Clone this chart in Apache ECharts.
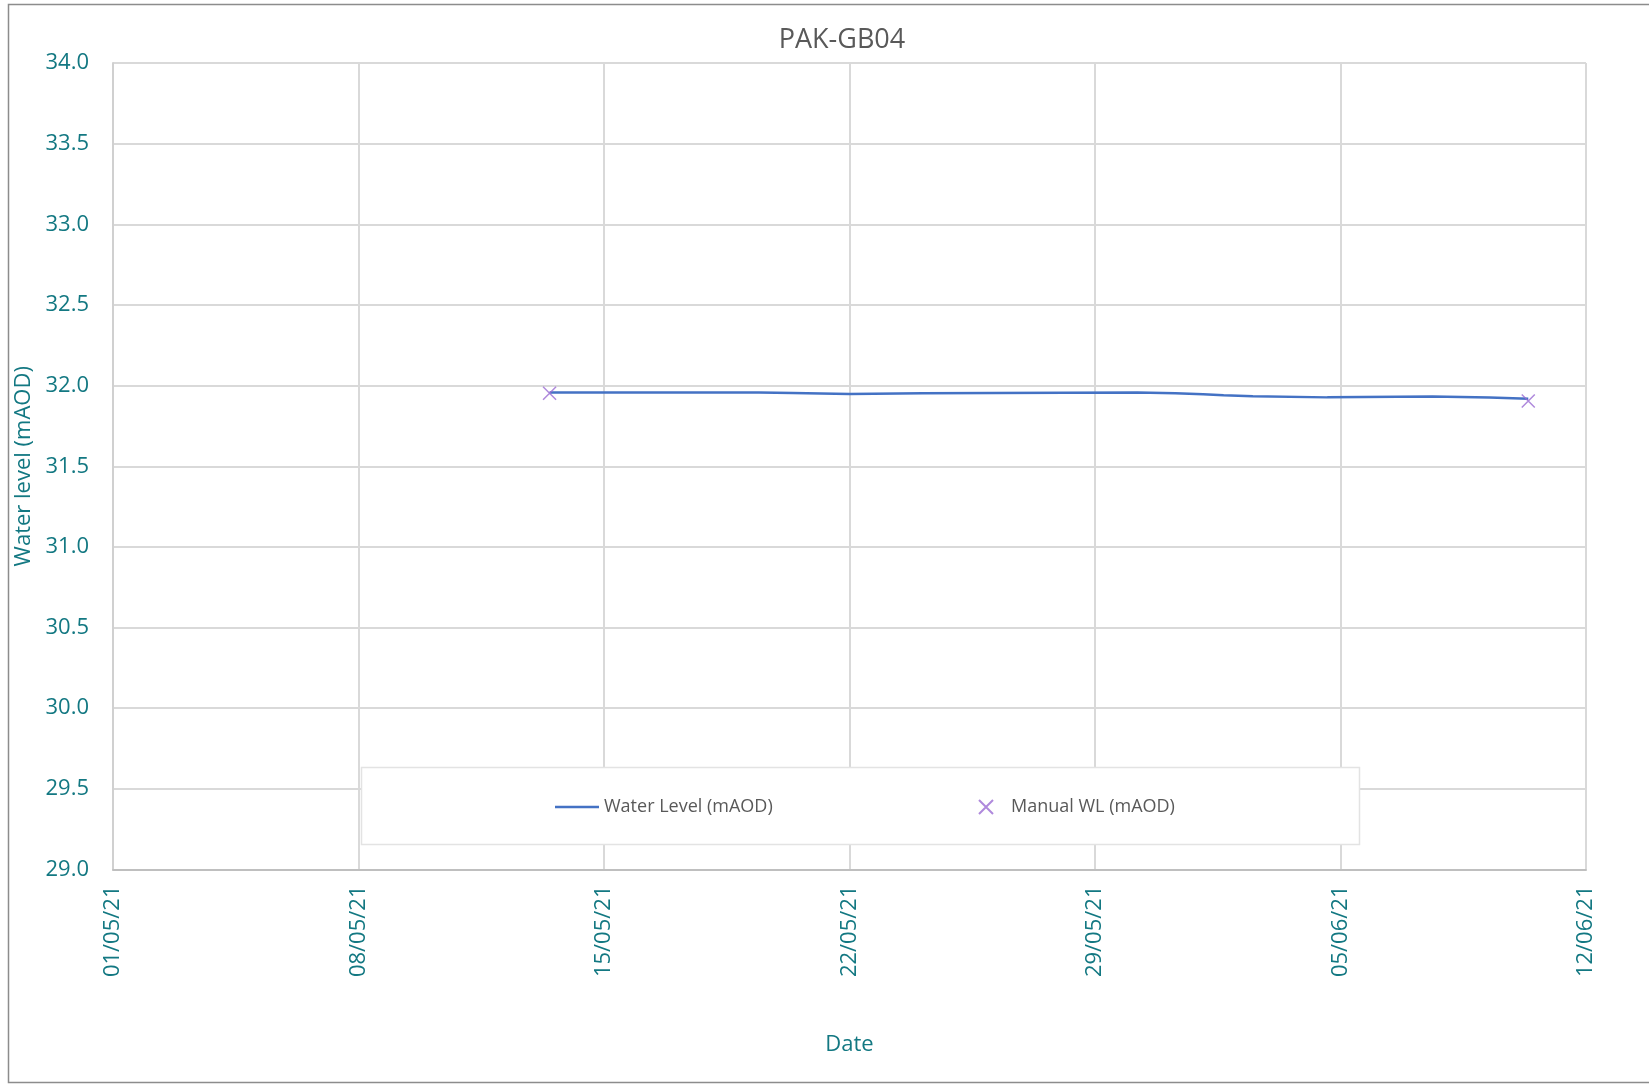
<!DOCTYPE html>
<html>
<head>
<meta charset="utf-8">
<title>PAK-GB04</title>
<script src="https://cdn.jsdelivr.net/npm/echarts@6/dist/echarts.min.js"></script>
<style>
  html, body { margin: 0; padding: 0; background: #ffffff; }
  #chart { width: 1649px; height: 1086px; }
</style>
</head>
<body>
<div id="chart"></div>
<script>
// Logger record: water level steps (time the level changed, level from then on)
const levelTimes = [
  '2021-05-13 10:45', '2021-05-19 10:00', '2021-05-20 09:00', '2021-05-22 00:00',
  '2021-05-24 02:00', '2021-05-30 05:00', '2021-05-31 07:00', '2021-06-01 02:00',
  '2021-06-01 16:00', '2021-06-02 12:00', '2021-06-04 15:00', '2021-06-07 15:00',
  '2021-06-09 06:00', '2021-06-10 08:30'
];
const levelValues = [
  31.957, 31.954, 31.948, 31.953,
  31.957, 31.952, 31.946, 31.940,
  31.934, 31.927, 31.932, 31.926,
  31.919, 31.919
];

// Manual dips
const manualTimes = ['2021-05-13 10:45', '2021-06-10 08:30'];
const manualValues = [31.952, 31.905];

// Axis settings
const axisStart = '2021-05-01 00:00';
const axisDays = 42;
const dayStep = 7;
const yMin = 29.0, yMax = 34.0, yStep = 0.5;

const teal = '#137882';
const grey = '#595959';
const font = '"Open Sans", "Noto Sans", sans-serif';

function toUTC(s) {
  const [d, t] = s.split(' ');
  const [Y, M, D] = d.split('-').map(Number);
  const [h, m] = t.split(':').map(Number);
  return Date.UTC(Y, M - 1, D, h, m);
}
const t0 = toUTC(axisStart);
const dayOffset = s => (toUTC(s) - t0) / 86400000;
function dayLabel(v) {
  const dt = new Date(t0 + v * 86400000);
  const dd = String(dt.getUTCDate()).padStart(2, '0');
  const mm = String(dt.getUTCMonth() + 1).padStart(2, '0');
  const yy = String(dt.getUTCFullYear()).slice(2);
  return dd + '/' + mm + '/' + yy;
}

const levelData = levelTimes.map((t, i) => [dayOffset(t), levelValues[i]]);
const manualData = manualTimes.map((t, i) => [dayOffset(t), manualValues[i]]);

const crossPath = 'path://M0,0L10,10M10,0L0,10';

const chart = echarts.init(document.getElementById('chart'), null, { renderer: 'canvas' });
chart.setOption({
  backgroundColor: '#ffffff',
  animation: false,
  textStyle: { fontFamily: font },
  title: {
    text: 'PAK-GB04',
    left: 837,
    textAlign: 'center',
    top: 22,
    textStyle: { color: grey, fontSize: 27, fontWeight: 'normal', fontFamily: font }
  },
  graphic: [
    {
      type: 'rect', z: 0, silent: true,
      shape: { x: 8.5, y: 4.5, width: 1700, height: 1078 },
      style: { fill: 'none', stroke: '#8c8c8c', lineWidth: 1.5 }
    },
    {
      type: 'rect', z: 3, silent: true,
      shape: { x: 361.5, y: 767.5, width: 998, height: 77 },
      style: { fill: '#ffffff', stroke: '#e3e3e3', lineWidth: 1.5 }
    }
  ],
  grid: { left: 113, top: 63, right: 63, bottom: 216.5, containLabel: false },
  legend: [
    {
      data: [{ name: 'Water Level (mAOD)', icon: 'rect' }],
      left: 550, top: 793,
      itemWidth: 44, itemHeight: 2.5,
      textStyle: { color: grey, fontSize: 18, fontFamily: font },
      z: 5
    },
    {
      data: ['Manual WL (mAOD)'],
      left: 973, top: 793,
      itemWidth: 40, itemHeight: 14,
      textStyle: { color: grey, fontSize: 18, fontFamily: font },
      z: 5
    }
  ],
  xAxis: {
    type: 'value',
    min: 0, max: axisDays, interval: dayStep,
    name: 'Date',
    nameLocation: 'middle',
    nameGap: 164,
    nameTextStyle: { color: teal, fontSize: 22, fontFamily: font },
    axisLine: { show: true, lineStyle: { color: '#bfbfbf', width: 2 } },
    axisTick: { show: false },
    axisLabel: {
      rotate: 90, margin: 16,
      color: teal, fontSize: 22, fontFamily: font,
      formatter: v => dayLabel(v)
    },
    splitLine: { show: true, lineStyle: { color: '#d9d9d9', width: 2 } }
  },
  yAxis: {
    type: 'value',
    min: yMin, max: yMax, interval: yStep,
    name: 'Water level (mAOD)',
    nameLocation: 'middle',
    nameGap: 68,
    nameTextStyle: { color: teal, fontSize: 22, fontFamily: font },
    axisLine: { show: true, lineStyle: { color: '#d0d0d0', width: 2 } },
    axisTick: { show: false },
    axisLabel: {
      margin: 24, color: teal, fontSize: 22, fontFamily: font,
      formatter: v => v.toFixed(1)
    },
    splitLine: { show: true, lineStyle: { color: '#d9d9d9', width: 2 } }
  },
  series: [
    {
      name: 'Water Level (mAOD)',
      type: 'line',
      step: 'end',
      data: levelData,
      symbol: 'none',
      lineStyle: { color: '#4472c4', width: 2.5 },
      itemStyle: { color: '#4472c4' },
      z: 2
    },
    {
      name: 'Manual WL (mAOD)',
      type: 'scatter',
      data: manualData,
      symbol: crossPath,
      symbolSize: 13,
      itemStyle: { color: 'rgba(0,0,0,0)', borderColor: '#9b6bd3', borderWidth: 1.5 },
      z: 3
    }
  ]
});
</script>
</body>
</html>
